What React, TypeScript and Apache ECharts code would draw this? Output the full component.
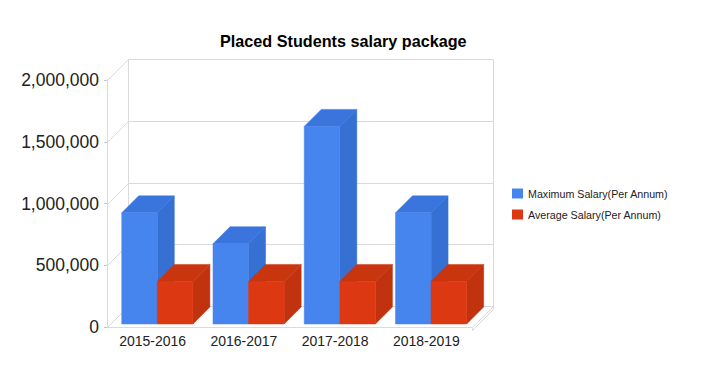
import React, { useEffect, useRef } from 'react';
import * as echarts from 'echarts';

const categories = ['2015-2016', '2016-2017', '2017-2018', '2018-2019'];
const maxSalary = [900000, 650000, 1600000, 900000];
const avgSalary = [345000, 345000, 345000, 345000];
const yTicks = [0, 500000, 1000000, 1500000, 2000000];
const seriesNames = ['Maximum Salary(Per Annum)', 'Average Salary(Per Annum)'];
const titleText = 'Placed Students salary package';

const FONT = '"Liberation Sans", Arial, Helvetica, sans-serif';
const DX = 21;
const DY = -21;
const INSET = 4;
const BAR_DEPTH = 17;
const GRID = '#dadada';

const faces = [
  { front: '#4684ee', top: '#3a75dd', side: '#3670d3' },
  { front: '#dc3912', top: '#c8350f', side: '#c0330e' },
];

const crisp = (v: number) => Math.round(v) + 0.5;

function renderBox(params: any, api: any) {
  const cs = params.coordSys;
  const L = crisp(cs.x);
  const R = crisp(cs.x + cs.width);
  const v = api.value(1);
  const y = crisp(api.coord([0, v])[1]);
  const ls = { stroke: GRID, lineWidth: 1, fill: null };
  const children: any[] = [];
  if (params.dataIndex === 0) {
    const yTop = crisp(api.coord([0, yTicks[yTicks.length - 1]])[1]);
    children.push({
      type: 'polygon',
      shape: { points: [[L, y], [R, y], [R + DX, y + DY], [L + DX, y + DY]] },
      style: { fill: '#fff', stroke: GRID, lineWidth: 1 },
    });
    children.push({
      type: 'polygon',
      shape: { points: [[R, y], [R + DX, y + DY], [R + DX, y + DY + 3], [R, y + 3]] },
      style: { fill: '#fff', stroke: GRID, lineWidth: 1 },
    });
    children.push({
      type: 'line',
      shape: { x1: L + DX, y1: y + DY, x2: L + DX, y2: yTop + DY },
      style: ls,
    });
    children.push({
      type: 'line',
      shape: { x1: R + DX, y1: y + DY, x2: R + DX, y2: yTop + DY },
      style: ls,
    });
  }
  children.push({ type: 'line', shape: { x1: L + DX, y1: y + DY, x2: R + DX, y2: y + DY }, style: ls });
  children.push({ type: 'line', shape: { x1: L, y1: y, x2: L + DX, y2: y + DY }, style: ls });
  return { type: 'group', children };
}

function makeBarRenderer(si: number) {
  return (params: any, api: any) => {
    const cat = api.value(0);
    const val = api.value(1);
    const top = api.coord([cat, val]);
    const base = api.coord([cat, 0]);
    const bw = api.size([1, 0])[0];
    const barW = bw * 0.39;
    const x0 = top[0] - barW + si * barW + INSET + 0.7;
    const x1 = x0 + barW;
    const yt = top[1] - INSET + 1;
    const yb = base[1] - INSET + 1;
    const f = faces[si];
    return {
      type: 'group',
      children: [
        {
          type: 'polygon',
          shape: { points: [[x1, yt], [x1 + BAR_DEPTH, yt - BAR_DEPTH], [x1 + BAR_DEPTH, yb - BAR_DEPTH], [x1, yb]] },
          style: { fill: f.side, stroke: f.side, lineWidth: 0.5 },
        },
        {
          type: 'polygon',
          shape: { points: [[x0, yt], [x1, yt], [x1 + BAR_DEPTH, yt - BAR_DEPTH], [x0 + BAR_DEPTH, yt - BAR_DEPTH]] },
          style: { fill: f.top, stroke: f.top, lineWidth: 0.5 },
        },
        {
          type: 'rect',
          shape: { x: x0, y: yt, width: barW, height: yb - yt },
          style: { fill: f.front, stroke: f.front, lineWidth: 0.5 },
        },
      ],
    };
  };
}

export default function App() {
  const ref = useRef<HTMLDivElement>(null);
  useEffect(() => {
    if (!ref.current) return;
    const chart = echarts.init(ref.current, undefined, { renderer: 'svg' });
    chart.setOption({
      animation: false,
      backgroundColor: '#fff',
      title: {
        text: titleText,
        left: 220,
        top: 33,
        padding: 0,
        textStyle: { fontFamily: FONT, fontSize: 16.2, fontWeight: 'bold', color: '#000' },
      },
      legend: {
        data: seriesNames,
        orient: 'vertical',
        left: 512,
        top: 188,
        padding: 0,
        itemWidth: 11,
        itemHeight: 10,
        itemGap: 10,
        icon: 'rect',
        textStyle: { fontFamily: FONT, fontSize: 10.7, color: '#222' },
        selectedMode: false,
      },
      grid: { left: 107, right: 251, top: 80, bottom: 41, containLabel: false },
      xAxis: {
        type: 'category',
        data: categories,
        boundaryGap: true,
        axisLine: { show: false },
        axisTick: { show: false },
        splitLine: { show: false },
        axisLabel: { fontFamily: FONT, fontSize: 14, color: '#222', margin: 7 },
      },
      yAxis: {
        type: 'value',
        min: 0,
        max: 2000000,
        interval: 500000,
        axisLine: { show: true, lineStyle: { color: GRID } },
        axisTick: { show: true, length: 3, lineStyle: { color: '#c8c8c8' } },
        splitLine: { show: false },
        axisLabel: {
          fontFamily: FONT,
          fontSize: 17.5,
          color: '#222',
          margin: 8,
          padding: [4, 0, 0, 0],
          formatter: (v: number) => v.toLocaleString('en-US'),
        },
      },
      series: [
        {
          type: 'custom',
          name: 'box',
          silent: true,
          coordinateSystem: 'cartesian2d',
          encode: { x: 0, y: 1 },
          data: yTicks.map((v) => [0, v]),
          renderItem: renderBox,
          clip: false,
          z: 1,
        },
        {
          type: 'custom',
          name: seriesNames[0],
          silent: true,
          coordinateSystem: 'cartesian2d',
          encode: { x: 0, y: 1 },
          itemStyle: { color: faces[0].front },
          data: maxSalary.map((v, i) => [i, v]),
          renderItem: makeBarRenderer(0),
          clip: false,
          z: 2,
        },
        {
          type: 'custom',
          name: seriesNames[1],
          silent: true,
          coordinateSystem: 'cartesian2d',
          encode: { x: 0, y: 1 },
          itemStyle: { color: faces[1].front },
          data: avgSalary.map((v, i) => [i, v]),
          renderItem: makeBarRenderer(1),
          clip: false,
          z: 3,
        },
      ],
    });
    return () => chart.dispose();
  }, []);
  return <div ref={ref} style={{ position: 'fixed', left: 0, top: 0, width: 723, height: 368 }} />;
}
